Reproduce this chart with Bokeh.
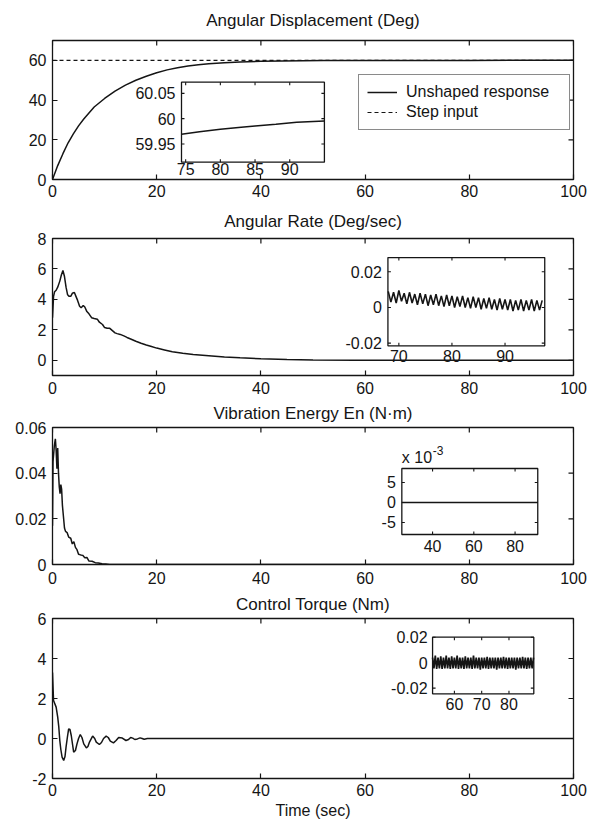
import numpy as np
from bokeh.plotting import figure
from bokeh.layouts import column
from bokeh.models import Range1d, LinearAxis, FixedTicker, Legend, LegendItem
from bokeh.embed import file_html
from bokeh.resources import INLINE
from bokeh.core.properties import value

# ---------------- data ----------------
x_ticks = [0, 20, 40, 60, 80, 100]
x_labels = ["0", "20", "40", "60", "80", "100"]

# Panel 1: angular displacement
t1 = [0, 1, 2, 3, 4, 5, 6, 8, 10, 12, 14, 16, 18, 20, 22, 24, 26, 28, 30,
      33, 36, 40, 44, 48, 52, 60, 70, 80, 90, 100]
theta = [0, 7, 13, 18.5, 23, 27, 30.5, 36.5, 40.8, 44.5, 47.5, 50, 52, 53.8, 55.2,
         56.3, 57.1, 57.8, 58.3, 58.8, 59.2, 59.5, 59.7, 59.85, 59.92, 59.97,
         59.985, 59.99, 59.995, 60.0]
step_t = [0, 100]
step_v = [60, 60]
y1_ticks = [0, 20, 40, 60]
y1_labels = ["0", "20", "40", "60"]
t1_in = [74.4, 77, 80, 83, 85, 88, 91, 95]
theta_in = [59.969, 59.974, 59.979, 59.983, 59.9856, 59.989, 59.993, 59.9955]
in1_xticks = [75, 80, 85, 90]
in1_xlabels = ["75", "80", "85", "90"]
in1_yticks = [59.95, 60.0, 60.05]
in1_ylabels = ["59.95", "60", "60.05"]

# Panel 2: angular rate
t2 = [0, 0.2, 0.4, 0.7, 1.0, 1.4, 1.7, 2.0, 2.3, 2.6, 2.9, 3.2, 3.5, 3.8, 4.2,
      4.5, 4.8, 5.2, 5.5, 5.9, 6.2, 6.6, 7.0, 7.5, 8.0, 8.6, 9.0, 9.6, 10.0, 10.5,
      11.0, 11.5, 12.0, 12.4, 13.0, 13.7, 14.3, 15.0, 16.0, 17.0, 18, 19, 20, 21.5,
      23, 25, 27, 30, 33, 36, 40, 45, 50, 58, 100]
rate = [2.8, 4.2, 4.5, 4.6, 4.8, 5.2, 5.6, 5.9, 5.5, 4.8, 4.3, 4.2, 4.2, 4.4, 4.45,
        4.2, 3.95, 3.55, 3.45, 3.6, 3.5, 3.2, 3.05, 2.8, 2.75, 2.7, 2.5, 2.35, 2.15,
        2.1, 2.1, 1.95, 1.8, 1.75, 1.7, 1.6, 1.5, 1.4, 1.25, 1.12, 1.0, 0.9, 0.8,
        0.68, 0.56, 0.46, 0.38, 0.3, 0.22, 0.16, 0.1, 0.05, 0.02, 0.0, 0.0]
y2_ticks = [0, 2, 4, 6, 8]
y2_labels = ["0", "2", "4", "6", "8"]
t2_in = [68.0, 68.5, 69.0, 69.5, 70.0, 70.5, 71.0, 71.5, 72.0, 72.5,
         73.0, 73.5, 74.0, 74.5, 75.0, 75.5, 76.0, 76.5, 77.0, 77.5,
         78.0, 78.5, 79.0, 79.5, 80.0, 80.5, 81.0, 81.5, 82.0, 82.5,
         83.0, 83.5, 84.0, 84.5, 85.0, 85.5, 86.0, 86.5, 87.0, 87.5,
         88.0, 88.5, 89.0, 89.5, 90.0, 90.5, 91.0, 91.5, 92.0, 92.5,
         93.0, 93.5, 94.0, 94.5, 95.0, 95.5, 96.0, 96.5, 97.0]
rate_in = [0.009, 0.003, 0.0085, 0.0025, 0.0095, 0.0035, 0.008, 0.002, 0.0085, 0.0025,
           0.0075, 0.0015, 0.008, 0.002, 0.0075, 0.001, 0.007, 0.0015, 0.0075, 0.001,
           0.0065, 0.0005, 0.007, 0.001, 0.0065, 0.0, 0.006, 0.0005, 0.0065, 0.0,
           0.0055, -0.0005, 0.006, 0.0, 0.0055, -0.001, 0.005, -0.0005, 0.0055, -0.001,
           0.0045, -0.0015, 0.005, -0.001, 0.0045, -0.0015, 0.0045, -0.002, 0.004, -0.0015,
           0.0045, -0.002, 0.004, -0.0015, 0.0045, -0.002, 0.004, -0.0015, 0.004]
in2_xticks = [70, 80, 90]
in2_xlabels = ["70", "80", "90"]
in2_yticks = [-0.02, 0.0, 0.02]
in2_ylabels = ["-0.02", "0", "0.02"]

# Panel 3: vibration energy
t3 = [0, 0.1, 0.35, 0.55, 0.7, 0.85, 1.0, 1.15, 1.3, 1.45, 1.6, 1.75, 1.9, 2.1, 2.3,
      2.5, 2.8, 3.1, 3.5, 3.8, 4.1, 4.4, 4.7, 5.0, 5.4, 5.8, 6.2, 6.6, 7.0, 7.6,
      8.2, 8.8, 9.5, 10.2, 11.0, 100]
energy = [0.017, 0.045, 0.052, 0.055, 0.05, 0.042, 0.051, 0.04, 0.034, 0.031,
          0.035, 0.033, 0.026, 0.021, 0.016, 0.0145, 0.014, 0.012, 0.0115, 0.009,
          0.01, 0.0075, 0.0065, 0.0045, 0.0042, 0.004, 0.003, 0.0031, 0.0015, 0.0014,
          0.0008, 0.0007, 0.0003, 0.0002, 0.0, 0.0]
y3_ticks = [0, 0.02, 0.04, 0.06]
y3_labels = ["0", "0.02", "0.04", "0.06"]
t3_in = [25.1, 91.0]
energy_in = [0.0, 0.0]
in3_xticks = [40, 60, 80]
in3_xlabels = ["40", "60", "80"]
in3_yticks = [-0.005, 0.0, 0.005]
in3_ylabels = ["-5", "0", "5"]

# Panel 4: control torque
t4 = [0, 0.2, 0.7, 1.0, 1.2, 1.4, 1.6, 1.84, 2.15, 2.4, 2.6, 2.85, 3.1, 3.35, 3.6,
      3.85, 4.06, 4.4, 4.7, 5.0, 5.33, 5.65, 6.0, 6.5, 6.8, 7.1, 7.7, 8.1, 8.4, 9.0,
      9.4, 9.8, 10.3, 10.7, 11.1, 11.7, 12.2, 12.7, 13.4, 14.1, 14.6, 15.0, 15.4,
      15.8, 16.3, 16.8, 17.2, 17.6, 18.2, 100]
torque = [3.3, 1.9, 1.57, 1.07, 0.6, -0.1, -0.55, -0.93, -1.1, -0.9, -0.43, 0.05,
          0.48, 0.45, 0.15, -0.3, -0.68, -0.6, -0.27, 0.0, 0.2, 0.05, -0.27, -0.47,
          -0.4, -0.18, 0.12, 0.0, -0.18, -0.3, -0.2, 0.0, 0.12, 0.05, -0.13, -0.22,
          -0.1, 0.05, 0.02, -0.1, -0.05, 0.05, 0.02, -0.05, -0.02, 0.03, 0.0, -0.04,
          0.0, 0.0]
y4_ticks = [-2, 0, 2, 4, 6]
y4_labels = ["-2", "0", "2", "4", "6"]
t4_in = [52.0, 52.5, 53.0, 53.5, 54.0, 54.5, 55.0, 55.5, 56.0, 56.5,
         57.0, 57.5, 58.0, 58.5, 59.0, 59.5, 60.0, 60.5, 61.0, 61.5,
         62.0, 62.5, 63.0, 63.5, 64.0, 64.5, 65.0, 65.5, 66.0, 66.5,
         67.0, 67.5, 68.0, 68.5, 69.0, 69.5, 70.0, 70.5, 71.0, 71.5,
         72.0, 72.5, 73.0, 73.5, 74.0, 74.5, 75.0, 75.5, 76.0, 76.5,
         77.0, 77.5, 78.0, 78.5, 79.0, 79.5, 80.0, 80.5, 81.0, 81.5,
         82.0, 82.5, 83.0, 83.5, 84.0, 84.5, 85.0, 85.5, 86.0, 86.5,
         87.0, 87.5, 88.0, 88.5, 89.0]
torque_in = [0.004, -0.0045, 0.0055, -0.005, 0.004, -0.0045, 0.005, -0.005, 0.004, -0.0045,
             0.0055, -0.0045, 0.004, -0.005, 0.005, -0.0045, 0.004, -0.0045, 0.0055, -0.005,
             0.004, -0.0045, 0.004, -0.005, 0.005, -0.0045, 0.004, -0.0045, 0.004, -0.005,
             0.0055, -0.0045, 0.004, -0.0045, 0.004, -0.0055, 0.004, -0.0045, 0.004, -0.0045,
             0.0045, -0.005, 0.004, -0.0045, 0.004, -0.0045, 0.004, -0.0055, 0.004, -0.0045,
             0.004, -0.0045, 0.0045, -0.0045, 0.004, -0.005, 0.004, -0.0045, 0.004, -0.0045,
             0.004, -0.0055, 0.004, -0.0045, 0.004, -0.0045, 0.0045, -0.0045, 0.004, -0.005,
             0.004, -0.0045, 0.004, -0.0045, 0.004]
in4_xticks = [60, 70, 80]
in4_xlabels = ["60", "70", "80"]
in4_yticks = [-0.02, 0.0, 0.02]
in4_ylabels = ["-0.02", "0", "0.02"]

# ---------------- style ----------------
FONT = "Liberation Sans"
INK = "#151515"
TICK_FS = "16px"
TITLE_FS = "17px"
IN_FS = "16px"
W = 593
LW = 1.5


def panel(height, top, bottom, left, right, yr, yticks, ylabels, title, standoff,
          xstandoff):
    p = figure(width=W, height=height, x_range=Range1d(0, 100), y_range=Range1d(*yr),
               output_backend="svg", toolbar_location=None,
               x_axis_location=None, y_axis_location=None,
               min_border_top=top, min_border_bottom=bottom,
               min_border_left=left, min_border_right=right,
               outline_line_color=INK, outline_line_width=1.3, title=title)
    p.grid.visible = False
    p.title.align = "center"
    p.title.vertical_align = "top"
    p.title.text_font = FONT
    p.title.text_font_size = TITLE_FS
    p.title.text_font_style = "normal"
    p.title.text_color = INK
    p.title.standoff = standoff
    axes = {}
    for loc, ticks, labels, so in [("below", x_ticks, x_labels, xstandoff),
                                   ("left", yticks, ylabels, 6)]:
        ax = LinearAxis(ticker=FixedTicker(ticks=ticks),
                        major_label_overrides={t: l for t, l in zip(ticks, labels)})
        ax.major_tick_in = 5
        ax.major_tick_out = 0
        ax.minor_tick_line_color = None
        ax.axis_line_color = None
        ax.major_tick_line_color = INK
        ax.major_tick_line_width = 1.2
        ax.major_label_text_font = FONT
        ax.major_label_text_color = INK
        ax.major_label_text_font_size = TICK_FS
        ax.major_label_standoff = so
        p.add_layout(ax, loc)
        axes[loc] = ax
    # ticks on the top and right edges of the box (pointing inward)
    kw = dict(length=5, length_units="screen", line_color=INK, line_width=1.2)
    p.ray(x=x_ticks, y=[yr[1]] * len(x_ticks), angle=-np.pi / 2, **kw)
    p.ray(x=[100] * len(yticks), y=yticks, angle=np.pi, **kw)
    return p, axes


def inset(p, xs, ys, xt, yt, xticks, xlabels, yticks, ylabels, xd, yd,
          xlab_off, ylab_off, lw=LW):
    sub = p.subplot(x_source=Range1d(*xs), y_source=Range1d(*ys),
                    x_target=Range1d(*xt), y_target=Range1d(*yt))
    sub.quad(left=[xs[0]], right=[xs[1]], bottom=[ys[0]], top=[ys[1]],
             fill_color="white", line_color=None)
    sub.line(xd, yd, line_color=INK, line_width=lw)
    sub.quad(left=[xs[0]], right=[xs[1]], bottom=[ys[0]], top=[ys[1]],
             fill_color=None, line_color=INK, line_width=1.3)
    n, m = len(xticks), len(yticks)
    kw = dict(length=3, length_units="screen", line_color=INK, line_width=1.1)
    sub.ray(x=xticks, y=[ys[0]] * n, angle=np.pi / 2, **kw)
    sub.ray(x=xticks, y=[ys[1]] * n, angle=-np.pi / 2, **kw)
    sub.ray(x=[xs[0]] * m, y=yticks, angle=0, **kw)
    sub.ray(x=[xs[1]] * m, y=yticks, angle=np.pi, **kw)
    sub.text(x=xticks, y=[ys[0]] * n, text=xlabels, text_align="center",
             text_baseline="top", y_offset=xlab_off, text_font=value(FONT),
             text_font_size=IN_FS, text_color=INK)
    sub.text(x=[xs[0]] * m, y=yticks, text=ylabels, text_align="right",
             text_baseline="middle", x_offset=ylab_off, text_font=value(FONT),
             text_font_size=IN_FS, text_color=INK)
    return sub


# Panel 1  (frame 139 px tall)
p1, a1 = panel(203, 40, 24, 48, 20, (0, 70), y1_ticks, y1_labels,
               "Angular Displacement (Deg)", 17, 5)
r_step = p1.line(step_t, step_v, line_color=INK, line_width=1.2, line_dash="4 3")
r_resp = p1.line(t1, theta, line_color=INK, line_width=LW)
inset(p1, (74.4, 95.0), (59.914, 60.072), (24.76, 52.19), (8.71, 49.0),
      in1_xticks, in1_xlabels, in1_yticks, in1_ylabels, t1_in, theta_in, 1, -6)
leg = Legend(items=[LegendItem(label="Unshaped response", renderers=[r_resp]),
                    LegendItem(label="Step input", renderers=[r_step])],
             location=(306, 49))
leg.border_line_color = INK
leg.border_line_width = 1.3
leg.background_fill_alpha = 1.0
leg.label_text_font = FONT
leg.label_text_font_size = "16px"
leg.label_text_color = INK
leg.glyph_width = 30
leg.glyph_height = 18
leg.label_height = 18
leg.label_width = 155
leg.label_standoff = 9
leg.padding = 8
leg.spacing = 2
leg.margin = 0
p1.add_layout(leg)

# Panel 2  (frame 137 px tall)
p2, a2 = panel(197, 35, 25, 48, 20, (-1, 8), y2_ticks, y2_labels,
               "Angular Rate (Deg/sec)", 12, 6)
p2.line(t2, rate, line_color=INK, line_width=LW)
inset(p2, (67.94, 97.48), (-0.0215, 0.028), (64.38, 94.48), (0.95, 6.75),
      in2_xticks, in2_xlabels, in2_yticks, in2_ylabels, t2_in, rate_in, 4, -6, 1.6)

# Panel 3  (frame 137 px tall)
p3, a3 = panel(190, 27, 26, 48, 20, (0, 0.06), y3_ticks, y3_labels,
               "Vibration Energy En (N\u00b7m)", 5, 7)
p3.line(t3, energy, line_color=INK, line_width=LW)
s3 = inset(p3, (25.1, 91.0), (-0.008, 0.0085), (67.05, 93.14), (0.01314, 0.04205),
           in3_xticks, in3_xlabels, in3_yticks, in3_ylabels, t3_in, energy_in, 6, -6)
s3.text(x=[25.1], y=[0.0085], text=["x 10"], text_align="left", text_baseline="bottom",
        y_offset=-2, text_font=value(FONT), text_font_size=IN_FS, text_color=INK)
s3.text(x=[25.1], y=[0.0085], text=["-3"], text_align="left", text_baseline="bottom",
        x_offset=31, y_offset=-13, text_font=value(FONT), text_font_size="12px",
        text_color=INK)

# Panel 4  (frame 160 px tall)
p4, a4 = panel(234, 28, 46, 52, 16, (-2, 6), y4_ticks, y4_labels,
               "Control Torque (Nm)", 6, 5)
a4["below"].axis_label = "Time (sec)"
a4["below"].axis_label_text_font = FONT
a4["below"].axis_label_text_font_size = TICK_FS
a4["below"].axis_label_text_font_style = "normal"
a4["below"].axis_label_text_color = INK
a4["below"].axis_label_standoff = 3
p4.line(t4, torque, line_color=INK, line_width=LW)
inset(p4, (52.0, 89.1), (-0.0245, 0.02), (72.95, 92.38), (2.235, 5.065),
      in4_xticks, in4_xlabels, in4_yticks, in4_ylabels, t4_in, torque_in, 4, -5, 1.7)

layout = column(p1, p2, p3, p4)
open("out.html", "w").write(file_html(layout, INLINE))
